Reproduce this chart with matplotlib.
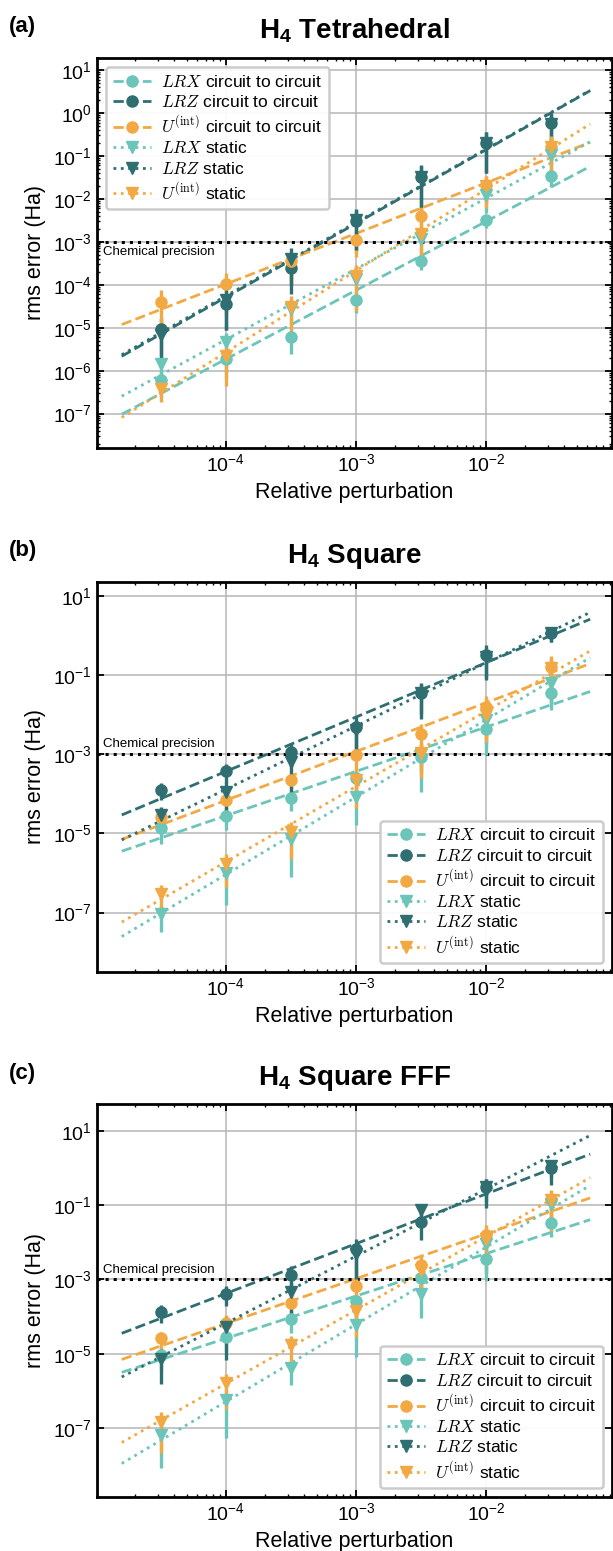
import numpy as np
import matplotlib
matplotlib.use("Agg")
import matplotlib.pyplot as plt
from matplotlib.lines import Line2D
from matplotlib.ticker import LogLocator, NullFormatter, NullLocator, FixedLocator

plt.rcParams["font.family"] = ["Liberation Sans", "DejaVu Sans"]
plt.rcParams["mathtext.fontset"] = "cm"
plt.rcParams["mathtext.bf"] = "Liberation Sans:bold"
plt.rcParams["mathtext.rm"] = "Liberation Sans"

# relative perturbation (x) shared by all panels
perturbation = [3.16e-5, 1e-4, 3.16e-4, 1e-3, 3.16e-3, 1e-2, 3.16e-2]

# ---- (a) H4 tetrahedral: rms error (Ha) ----
tet_lrx_c2c = [6.2e-7, 1.9e-6, 6.2e-6, 4.4e-5, 3.6e-4, 3.2e-3, 3.4e-2]
tet_lrz_c2c = [9.5e-6, 3.5e-5, 2.5e-4, 3.0e-3, 3.3e-2, 0.20, 0.60]
tet_u_c2c = [4.0e-5, 1.07e-4, 3.5e-4, 1.1e-3, 4.0e-3, 2.1e-2, 0.165]
tet_lrx_static = [1.45e-6, 4.6e-6, 2.8e-5, 1.4e-4, 1.15e-3, 1.2e-2, 0.105]
tet_lrz_static = [6.9e-6, 4.5e-5, 4.0e-4, 3.2e-3, 3.2e-2, 0.20, 0.56]
tet_u_static = [3.7e-7, 2.2e-6, 3.0e-5, 1.6e-4, 1.5e-3, 2.0e-2, 0.165]
# relative std of each point
tet_lrx_c2c_err = [0.6, 0.65, 0.6, 0.5, 0.4, 0.35, 0.45]
tet_lrz_c2c_err = [0.75, 0.75, 0.75, 0.8, 0.85, 0.8, 0.7]
tet_u_c2c_err = [0.85, 0.8, 0.7, 0.6, 0.6, 0.6, 0.6]
tet_lrx_static_err = [0.7, 0.6, 0.6, 0.6, 0.6, 0.6, 0.6]
tet_lrz_static_err = [0.8, 0.8, 0.75, 0.8, 0.8, 0.8, 0.7]
tet_u_static_err = [0.5, 0.8, 0.85, 0.85, 0.8, 0.7, 0.75]

# ---- (b) H4 square ----
sq_lrx_c2c = [1.35e-5, 2.8e-5, 7.8e-5, 2.45e-4, 8.3e-4, 4.3e-3, 3.6e-2]
sq_lrz_c2c = [1.26e-4, 3.8e-4, 1.17e-3, 5.0e-3, 3.6e-2, 0.32, 1.15]
sq_u_c2c = [2.6e-5, 6.9e-5, 2.2e-4, 9.3e-4, 3.2e-3, 1.6e-2, 0.16]
sq_lrx_static = [9.3e-8, 9.8e-7, 7.4e-6, 8.5e-5, 1.0e-3, 7.4e-3, 6.3e-2]
sq_lrz_static = [2.9e-5, 1.1e-4, 6.5e-4, 4.0e-3, 3.5e-2, 0.28, 1.15]
sq_u_static = [3.0e-7, 1.7e-6, 1.1e-5, 2.2e-4, 1.07e-3, 1.0e-2, 0.15]
sq_lrx_c2c_err = [0.6, 0.57, 0.54, 0.6, 0.6, 0.6, 0.64]
sq_lrz_c2c_err = [0.45, 0.5, 0.6, 0.84, 0.78, 0.77, 0.4]
sq_u_c2c_err = [0.6, 0.6, 0.7, 0.8, 0.85, 0.83, 0.87]
sq_lrx_static_err = [0.65, 0.84, 0.89, 0.81, 0.89, 0.87, 0.7]
sq_lrz_static_err = [0.62, 0.77, 0.86, 0.8, 0.7, 0.7, 0.4]
sq_u_static_err = [0.65, 0.74, 0.8, 0.8, 0.77, 0.8, 0.8]

# ---- (c) H4 square FFF ----
fff_lrx_c2c = [9.1e-6, 2.9e-5, 8.9e-5, 2.6e-4, 1.07e-3, 3.5e-3, 3.4e-2]
fff_lrz_c2c = [1.35e-4, 4.2e-4, 1.35e-3, 6.8e-3, 3.5e-2, 0.30, 1.0]
fff_u_c2c = [2.6e-5, 6.9e-5, 2.3e-4, 6.6e-4, 2.5e-3, 1.55e-2, 0.135]
fff_lrx_static = [6.5e-8, 5.6e-7, 4.1e-6, 5.9e-5, 4.0e-4, 8.9e-3, 0.11]
fff_lrz_static = [7.4e-6, 5.4e-5, 4.7e-4, 5.0e-3, 7.4e-2, 0.31, 1.12]
fff_u_static = [1.5e-7, 1.6e-6, 1.7e-5, 1.4e-4, 1.8e-3, 1.26e-2, 0.135]
fff_lrx_c2c_err = [0.6, 0.6, 0.6, 0.6, 0.6, 0.6, 0.6]
fff_lrz_c2c_err = [0.5, 0.55, 0.7, 0.83, 0.67, 0.72, 0.65]
fff_u_c2c_err = [0.5, 0.6, 0.7, 0.9, 0.87, 0.9, 0.85]
fff_lrx_static_err = [0.87, 0.9, 0.65, 0.86, 0.77, 0.9, 0.7]
fff_lrz_static_err = [0.79, 0.87, 0.81, 0.8, 0.4, 0.6, 0.5]
fff_u_static_err = [0.86, 0.8, 0.75, 0.8, 0.8, 0.8, 0.8]

labels = [r"$LRX$ circuit to circuit", r"$LRZ$ circuit to circuit",
          r"$U^{\mathrm{(int)}}$ circuit to circuit", r"$LRX$ static",
          r"$LRZ$ static", r"$U^{\mathrm{(int)}}$ static"]
colors = ["#6cc5b9", "#2f6f72", "#f3a943"] * 2
markers = ["o"] * 3 + ["v"] * 3
styles = ["--"] * 3 + [":"] * 3


def draw_panel(ax, series, errs, title, tag, ylim, yticks, legend_loc, chem_above):
    x = np.array(perturbation)
    xfit = np.array([x[0] / 2, x[-1] * 2])
    ax.set_xscale("log")
    ax.set_yscale("log")
    for vals, rel, c, m, ls in zip(series, errs, colors, markers, styles):
        v = np.array(vals)
        ax.errorbar(x, v, yerr=v * np.array(rel), fmt=m, color=c, ms=8,
                    elinewidth=2.4, capsize=0, zorder=3)
        k, b = np.polyfit(np.log10(x), np.log10(v), 1)
        ax.plot(xfit, 10 ** (k * np.log10(xfit) + b), ls=ls, color=c, lw=2.0, zorder=2)

    ax.axhline(1e-3, color="k", ls=":", lw=2.2, zorder=2.5)
    tr = ax.get_yaxis_transform()
    if chem_above:
        ax.text(0.012, 1.25e-3, "Chemical precision", transform=tr, fontsize=9.5, va="bottom")
    else:
        ax.text(0.012, 0.8e-3, "Chemical precision", transform=tr, fontsize=9.5, va="top")

    ax.set_xlim(1.02e-5, 0.093)
    ax.set_ylim(*ylim)
    ax.xaxis.set_major_locator(LogLocator(base=10, numticks=10))
    ax.xaxis.set_minor_locator(LogLocator(base=10, subs=np.arange(2, 10), numticks=10))
    ax.xaxis.set_minor_formatter(NullFormatter())
    ax.yaxis.set_major_locator(FixedLocator(yticks))
    if len(yticks) > 6:
        ax.yaxis.set_minor_locator(LogLocator(base=10, subs=np.arange(2, 10), numticks=20))
    else:
        ax.yaxis.set_minor_locator(NullLocator())
    ax.yaxis.set_minor_formatter(NullFormatter())
    ax.tick_params(which="both", direction="in", top=True, right=True, labelsize=14)
    ax.tick_params(which="major", length=5, width=1.3)
    ax.tick_params(which="minor", length=2.5, width=1)
    ax.grid(True, which="major", color="#b5b5b5", lw=1.1)
    for s in ax.spines.values():
        s.set_linewidth(2.0)

    ax.set_xlabel("Relative perturbation", fontsize=15.5, labelpad=5)
    ax.set_ylabel("rms error (Ha)", fontsize=15.5, labelpad=5)
    ax.set_title(title, fontsize=20, fontweight="bold", pad=14, math_fontfamily="custom")

    handles = [Line2D([], [], color=c, ls=ls, marker=m, ms=8, lw=2.0)
               for c, m, ls in zip(colors, markers, styles)]
    leg = ax.legend(handles, labels, loc=legend_loc, fontsize=12.5, handlelength=2.2,
                    handletextpad=0.6, labelspacing=0.25, borderaxespad=0.5, fancybox=True,
                    edgecolor="#c8c8c8", framealpha=0.92)
    leg.get_frame().set_linewidth(1.8)
    leg.set_zorder(5)

    bb = ax.get_position()
    fig.text(9 / 613, bb.y1 + 31 / 1551, tag, fontsize=16, fontweight="bold", va="center")


fig = plt.figure(figsize=(6.13, 15.51), dpi=100)
left, width = 97 / 613, 515 / 613
ax_a = fig.add_axes([left, 1 - 448 / 1551, width, 390 / 1551])
ax_b = fig.add_axes([left, 1 - 972 / 1551, width, 390 / 1551])
ax_c = fig.add_axes([left, 1 - 1497 / 1551, width, 393 / 1551])

draw_panel(ax_a,
           [tet_lrx_c2c, tet_lrz_c2c, tet_u_c2c, tet_lrx_static, tet_lrz_static, tet_u_static],
           [tet_lrx_c2c_err, tet_lrz_c2c_err, tet_u_c2c_err, tet_lrx_static_err,
            tet_lrz_static_err, tet_u_static_err],
           r"H$_\mathbf{4}$ Tetrahedral", "(a)", (10 ** -7.8, 10 ** 1.28),
           [1e-7, 1e-6, 1e-5, 1e-4, 1e-3, 1e-2, 1e-1, 1e0, 1e1], "upper left", False)
draw_panel(ax_b,
           [sq_lrx_c2c, sq_lrz_c2c, sq_u_c2c, sq_lrx_static, sq_lrz_static, sq_u_static],
           [sq_lrx_c2c_err, sq_lrz_c2c_err, sq_u_c2c_err, sq_lrx_static_err,
            sq_lrz_static_err, sq_u_static_err],
           r"H$_\mathbf{4}$ Square", "(b)", (10 ** -8.5, 10 ** 1.35),
           [1e-7, 1e-5, 1e-3, 1e-1, 1e1], "lower right", True)
draw_panel(ax_c,
           [fff_lrx_c2c, fff_lrz_c2c, fff_u_c2c, fff_lrx_static, fff_lrz_static, fff_u_static],
           [fff_lrx_c2c_err, fff_lrz_c2c_err, fff_u_c2c_err, fff_lrx_static_err,
            fff_lrz_static_err, fff_u_static_err],
           r"H$_\mathbf{4}$ Square FFF", "(c)", (10 ** -8.85, 10 ** 1.72),
           [1e-7, 1e-5, 1e-3, 1e-1, 1e1], "lower right", True)

fig.savefig("out.png", dpi=100)
